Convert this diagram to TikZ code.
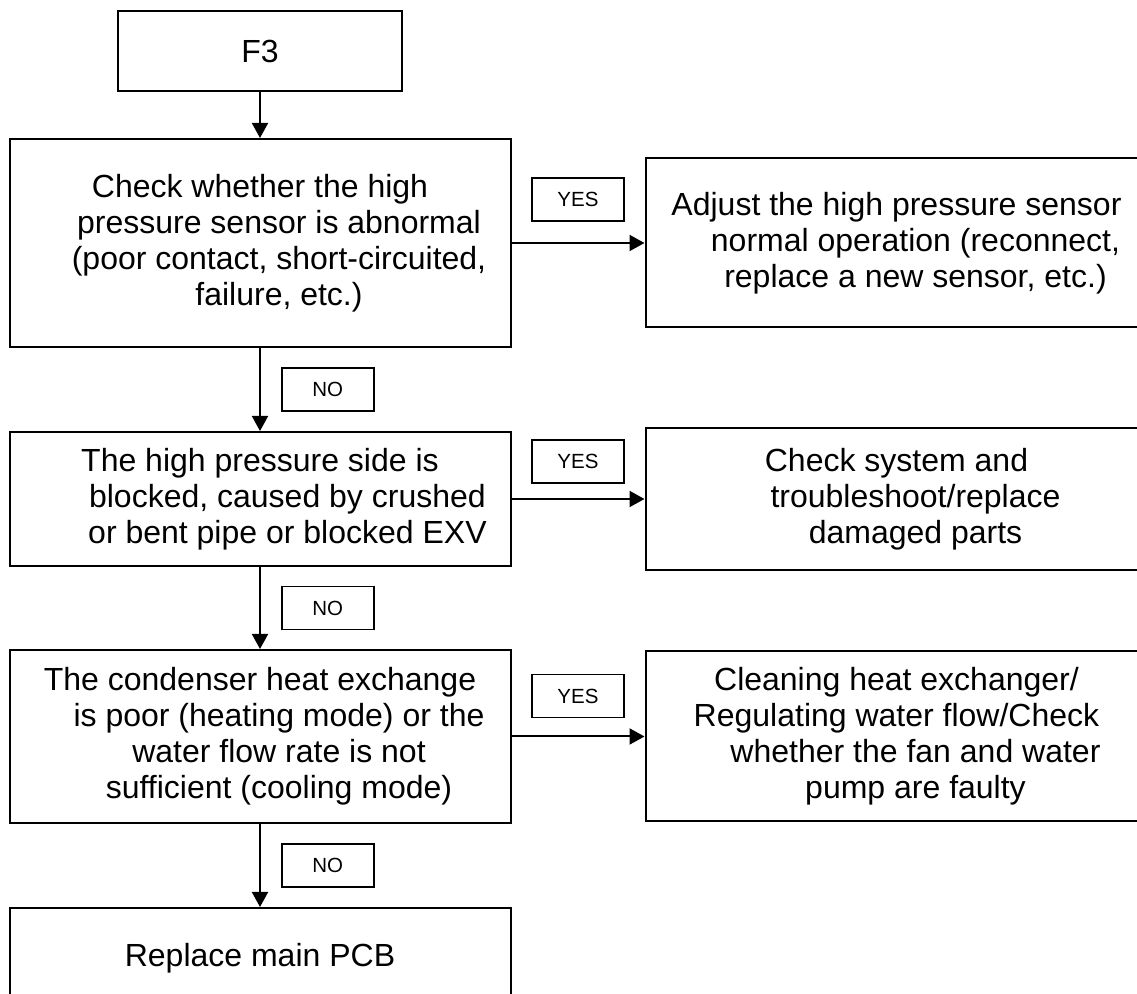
\documentclass[tikz,border=0pt]{standalone}
\usepackage{fontspec}
\setmainfont{Liberation Sans}
\usetikzlibrary{positioning,arrows.meta}

% leading space that pushes a line to the right
\newcommand{\shiftln}[1][19pt]{\hspace*{#1}}

\tikzset{
  box/.style={draw, line width=1pt, minimum width=250.5pt, align=center, inner sep=2pt, font=\fontsize{16pt}{18pt}\selectfont},
  tag/.style={draw, line width=0.75pt, minimum width=46pt, minimum height=21.5pt, inner sep=0pt, font=\fontsize{10.25pt}{12pt}\selectfont},
  flow/.style={-{Triangle[length=7.5pt,width=8pt]}, line width=1pt}
}

\begin{document}
\begin{tikzpicture}
  \useasboundingbox (0,0) rectangle (568.5pt,-497pt);
  \node[box, minimum width=142pt, minimum height=40pt] (f3) at (130pt,-25.5pt) {F3};
  \node[box, below=23pt of f3, minimum height=104pt] (chk) {Check whether the high\\\shiftln pressure sensor is abnormal\\\shiftln(poor contact, short-circuited,\\\shiftln failure, etc.)};
  \node[box, right=66.5pt of chk, minimum width=251pt, minimum height=84.5pt] (adj) {Adjust the high pressure sensor\\\shiftln normal operation (reconnect,\\\shiftln replace a new sensor, etc.)};
  \node[box, below=41.5pt of chk, minimum height=67pt] (hp) {The high pressure side is\\\shiftln[23pt] blocked, caused by crushed\\\shiftln[23pt] or bent pipe or blocked EXV};
  \node[box, right=66.5pt of hp, minimum width=251pt, minimum height=71pt] (sys) {Check system and\\\shiftln troubleshoot/replace\\\shiftln damaged parts};
  \node[box, below=41pt of hp, minimum height=86.5pt] (cond) {The condenser heat exchange\\\shiftln is poor (heating mode) or the\\\shiftln water flow rate is not\\\shiftln sufficient (cooling mode)};
  \node[box, right=66.5pt of cond, minimum width=251pt, minimum height=85pt] (clean) {Cleaning heat exchanger/\\Regulating water flow/Check\\\shiftln whether the fan and water\\\shiftln pump are faulty};
  \node[box, below=41.5pt of cond, minimum height=50pt] (pcb) {Replace main PCB};

  \draw[flow] (f3) -- (chk);
  \draw[flow] (chk) -- node[tag, above=10.5pt] {YES} (adj);
  \draw[flow] (chk) -- node[tag, right=10.5pt] {NO} (hp);
  \draw[flow] (hp) -- node[tag, above=7.5pt] {YES} (sys);
  \draw[flow] (hp) -- node[tag, right=10.5pt] {NO} (cond);
  \draw[flow] (cond) -- node[tag, above=9pt] {YES} (clean);
  \draw[flow] (cond) -- node[tag, right=10.5pt] {NO} (pcb);
\end{tikzpicture}
\end{document}
